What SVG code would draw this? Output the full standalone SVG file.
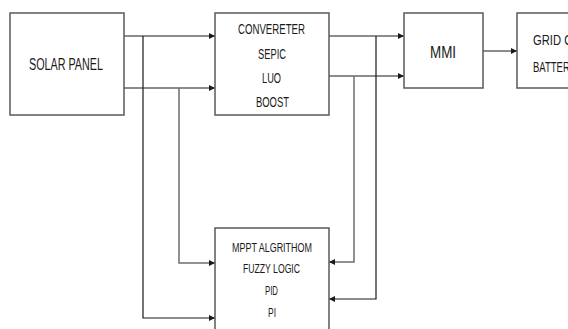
<svg xmlns="http://www.w3.org/2000/svg" width="568" height="329" viewBox="0 0 568 329">
<style>
.box{fill:#fff;stroke:#595959;stroke-width:1.5}
.t{font-family:"Liberation Sans",Arial,sans-serif;fill:#1a1a1a;text-anchor:start}
.ln{fill:none;stroke:#1a1a1a;stroke-width:1.2}
.lg{fill:none;stroke:#6e6e6e;stroke-width:1.5}
</style>
<defs>
<marker id="ar" viewBox="0 0 6 6" refX="6" refY="3" markerWidth="6" markerHeight="6" markerUnits="userSpaceOnUse" orient="auto">
<path d="M0,0 L6,3 L0,6 Z" fill="#1a1a1a"/>
</marker>
</defs>
<rect width="568" height="329" fill="#fff"/>
<g id="connectors">
<path class="ln" d="M124,36 H215" marker-end="url(#ar)"/>
<path class="ln" d="M124,88 H215" marker-end="url(#ar)"/>
<path class="ln" d="M143,36 V318 H215" marker-end="url(#ar)"/>
<path class="lg" d="M179,88 V263 H215" marker-end="url(#ar)"/>
<path class="ln" d="M329,36 H404" marker-end="url(#ar)"/>
<path class="ln" d="M329,76 H404" marker-end="url(#ar)"/>
<path class="ln" d="M376,36 V299 H329" marker-end="url(#ar)"/>
<path class="lg" d="M354,76 V262 H329" marker-end="url(#ar)"/>
<path class="ln" d="M483,51 H517" marker-end="url(#ar)"/>
</g>
<g id="solar">
<rect class="box" x="10" y="13" width="114" height="102"/>
<text class="t" x="29" y="70" font-size="16" textLength="74" lengthAdjust="spacingAndGlyphs">SOLAR PANEL</text>
</g>
<g id="converter">
<rect class="box" x="215" y="13" width="114" height="102"/>
<text class="t" x="238" y="34" font-size="14" textLength="67" lengthAdjust="spacingAndGlyphs">CONVERETER</text>
<text class="t" x="258" y="59" font-size="14" textLength="28" lengthAdjust="spacingAndGlyphs">SEPIC</text>
<text class="t" x="262" y="83" font-size="14" textLength="19" lengthAdjust="spacingAndGlyphs">LUO</text>
<text class="t" x="256" y="107" font-size="14" textLength="33" lengthAdjust="spacingAndGlyphs">BOOST</text>
</g>
<g id="mmi">
<rect class="box" x="404" y="13" width="79" height="75"/>
<text class="t" x="430" y="58" font-size="17" textLength="26" lengthAdjust="spacingAndGlyphs">MMI</text>
</g>
<g id="grid">
<rect class="box" x="517" y="13" width="80" height="75"/>
<text class="t" x="533" y="45" font-size="15" textLength="48" lengthAdjust="spacingAndGlyphs">GRID OR</text>
<text class="t" x="533" y="72" font-size="15" textLength="43" lengthAdjust="spacingAndGlyphs">BATTERY</text>
</g>
<g id="mppt">
<rect class="box" x="215" y="228" width="114" height="110"/>
<text class="t" x="232" y="252" font-size="12" textLength="80" lengthAdjust="spacingAndGlyphs">MPPT ALGRITHOM</text>
<text class="t" x="243" y="273" font-size="12" textLength="57" lengthAdjust="spacingAndGlyphs">FUZZY LOGIC</text>
<text class="t" x="265" y="295" font-size="12" textLength="13" lengthAdjust="spacingAndGlyphs">PID</text>
<text class="t" x="268" y="317" font-size="12" textLength="8" lengthAdjust="spacingAndGlyphs">PI</text>
</g>
</svg>
